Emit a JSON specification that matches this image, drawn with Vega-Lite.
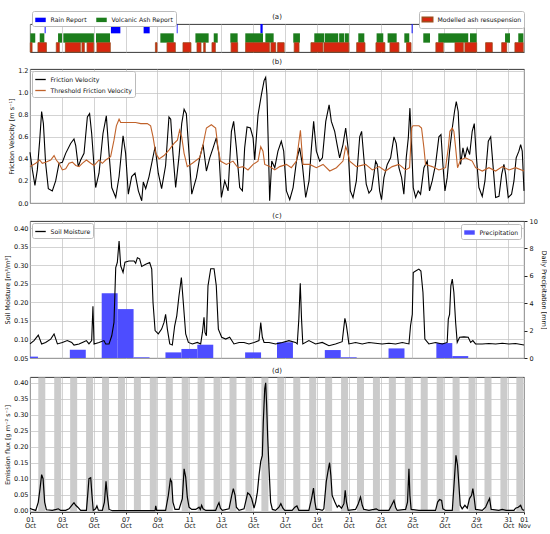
{
  "$schema": "https://vega.github.io/schema/vega-lite/v6.json",
  "padding": {"left": 4, "top": 10, "right": 0, "bottom": 2},
  "resolve": {"scale": {"color": "independent", "fill": "independent"}, "legend": {"color": "independent", "fill": "independent"}},
  "config": {
    "font": "DejaVu Sans",
    "view": {"stroke": "#222222", "strokeWidth": 0.9},
    "axis": {"labelFontSize": 6.5, "titleFontSize": 6.5, "titleFontWeight": "normal", "labelColor": "#111111", "titleColor": "#111111", "gridColor": "#c0c0c0", "gridWidth": 0.7, "domain": false, "ticks": false, "labelPadding": 2, "titlePadding": 3},
    "title": {"fontSize": 7, "fontWeight": "normal", "offset": 3, "color": "#111111"},
    "legend": {"labelFontSize": 6.2, "labelFont": "DejaVu Sans", "labelColor": "#111111", "strokeColor": "#bbbbbb", "fillColor": "white", "padding": 2.5, "cornerRadius": 2, "rowPadding": 1, "columnPadding": 8, "labelLimit": 300, "labelOffset": 4},
    "concat": {"spacing": 4}
  },
  "datasets": {
    "evt": [
      {"k": "Rain Report", "s": 1.92, "e": 1.98}, {"k": "Rain Report", "s": 6.08, "e": 6.67}, {"k": "Rain Report", "s": 8.13, "e": 8.51}, {"k": "Rain Report", "s": 10.21, "e": 10.26}, {"k": "Rain Report", "s": 15.46, "e": 15.6}, {"k": "Rain Report", "s": 24.95, "e": 25.01},
      {"k": "Volcanic Ash Report", "s": 1.02, "e": 1.33}, {"k": "Volcanic Ash Report", "s": 1.61, "e": 1.9}, {"k": "Volcanic Ash Report", "s": 2.76, "e": 3.01}, {"k": "Volcanic Ash Report", "s": 3.09, "e": 5.01}, {"k": "Volcanic Ash Report", "s": 5.14, "e": 6.02}, {"k": "Volcanic Ash Report", "s": 9.18, "e": 10.02}, {"k": "Volcanic Ash Report", "s": 11.38, "e": 12.21}, {"k": "Volcanic Ash Report", "s": 12.53, "e": 12.78}, {"k": "Volcanic Ash Report", "s": 13.57, "e": 14.03}, {"k": "Volcanic Ash Report", "s": 14.51, "e": 15.62}, {"k": "Volcanic Ash Report", "s": 15.77, "e": 16.29}, {"k": "Volcanic Ash Report", "s": 17.52, "e": 17.94}, {"k": "Volcanic Ash Report", "s": 18.84, "e": 19.46}, {"k": "Volcanic Ash Report", "s": 19.5, "e": 20.34}, {"k": "Volcanic Ash Report", "s": 20.4, "e": 20.72}, {"k": "Volcanic Ash Report", "s": 20.76, "e": 21.01}, {"k": "Volcanic Ash Report", "s": 21.6, "e": 21.98}, {"k": "Volcanic Ash Report", "s": 22.75, "e": 23.17}, {"k": "Volcanic Ash Report", "s": 23.44, "e": 24.01}, {"k": "Volcanic Ash Report", "s": 24.49, "e": 24.8}, {"k": "Volcanic Ash Report", "s": 25.68, "e": 26.1}, {"k": "Volcanic Ash Report", "s": 26.62, "e": 28.5}, {"k": "Volcanic Ash Report", "s": 28.61, "e": 29.03}, {"k": "Volcanic Ash Report", "s": 30.81, "e": 31.12}, {"k": "Volcanic Ash Report", "s": 31.64, "e": 31.96},
      {"k": "Modelled ash resuspension", "s": 1.02, "e": 1.13}, {"k": "Modelled ash resuspension", "s": 1.5, "e": 2.03}, {"k": "Modelled ash resuspension", "s": 2.65, "e": 2.84}, {"k": "Modelled ash resuspension", "s": 3.22, "e": 4.16}, {"k": "Modelled ash resuspension", "s": 4.26, "e": 4.41}, {"k": "Modelled ash resuspension", "s": 4.58, "e": 5.0}, {"k": "Modelled ash resuspension", "s": 5.2, "e": 6.04}, {"k": "Modelled ash resuspension", "s": 8.87, "e": 8.97}, {"k": "Modelled ash resuspension", "s": 9.6, "e": 10.12}, {"k": "Modelled ash resuspension", "s": 10.6, "e": 11.1}, {"k": "Modelled ash resuspension", "s": 11.48, "e": 11.73}, {"k": "Modelled ash resuspension", "s": 11.9, "e": 12.0}, {"k": "Modelled ash resuspension", "s": 12.42, "e": 12.63}, {"k": "Modelled ash resuspension", "s": 13.62, "e": 14.03}, {"k": "Modelled ash resuspension", "s": 14.53, "e": 16.02}, {"k": "Modelled ash resuspension", "s": 16.12, "e": 16.42}, {"k": "Modelled ash resuspension", "s": 16.54, "e": 16.95}, {"k": "Modelled ash resuspension", "s": 17.58, "e": 17.88}, {"k": "Modelled ash resuspension", "s": 18.63, "e": 19.38}, {"k": "Modelled ash resuspension", "s": 19.45, "e": 21.01}, {"k": "Modelled ash resuspension", "s": 21.5, "e": 22.02}, {"k": "Modelled ash resuspension", "s": 22.71, "e": 23.27}, {"k": "Modelled ash resuspension", "s": 23.59, "e": 24.15}, {"k": "Modelled ash resuspension", "s": 24.63, "e": 24.91}, {"k": "Modelled ash resuspension", "s": 26.47, "e": 26.93}, {"k": "Modelled ash resuspension", "s": 27.67, "e": 28.19}, {"k": "Modelled ash resuspension", "s": 28.29, "e": 29.03}, {"k": "Modelled ash resuspension", "s": 29.59, "e": 30.01}, {"k": "Modelled ash resuspension", "s": 30.6, "e": 30.91}, {"k": "Modelled ash resuspension", "s": 31.43, "e": 31.95}
    ],
    "fv": [
      {"d":1.00,"v":0.46},{"d":1.15,"v":0.30},{"d":1.31,"v":0.16},{"d":1.46,"v":0.30},{"d":1.61,"v":0.57},{"d":1.73,"v":0.83},{"d":1.84,"v":0.72},{"d":1.98,"v":0.36},{"d":2.15,"v":0.13},{"d":2.40,"v":0.11},{"d":2.61,"v":0.20},{"d":2.82,"v":0.36},{"d":3.03,"v":0.37},{"d":3.24,"v":0.45},{"d":3.55,"v":0.54},{"d":3.76,"v":0.58},{"d":3.87,"v":0.52},{"d":4.03,"v":0.33},{"d":4.18,"v":0.39},{"d":4.39,"v":0.45},{"d":4.60,"v":0.78},{"d":4.74,"v":0.81},{"d":4.87,"v":0.63},{"d":5.02,"v":0.33},{"d":5.12,"v":0.14},{"d":5.33,"v":0.27},{"d":5.58,"v":0.63},{"d":5.79,"v":0.79},{"d":5.96,"v":0.45},{"d":6.13,"v":0.14},{"d":6.38,"v":0.05},{"d":6.59,"v":0.24},{"d":6.84,"v":0.61},{"d":7.00,"v":0.45},{"d":7.17,"v":0.08},{"d":7.38,"v":0.24},{"d":7.59,"v":0.27},{"d":7.80,"v":0.11},{"d":8.01,"v":0.02},{"d":8.11,"v":0.19},{"d":8.26,"v":0.13},{"d":8.47,"v":0.24},{"d":8.68,"v":0.39},{"d":8.85,"v":0.51},{"d":9.05,"v":0.27},{"d":9.26,"v":0.13},{"d":9.51,"v":0.34},{"d":9.72,"v":0.78},{"d":9.83,"v":0.76},{"d":9.97,"v":0.45},{"d":10.14,"v":0.14},{"d":10.35,"v":0.42},{"d":10.52,"v":0.72},{"d":10.67,"v":0.85},{"d":10.81,"v":0.81},{"d":10.98,"v":0.45},{"d":11.15,"v":0.08},{"d":11.44,"v":0.23},{"d":11.65,"v":0.41},{"d":11.86,"v":0.53},{"d":12.07,"v":0.29},{"d":12.28,"v":0.41},{"d":12.49,"v":0.50},{"d":12.69,"v":0.59},{"d":12.86,"v":0.44},{"d":13.01,"v":0.05},{"d":13.22,"v":0.20},{"d":13.43,"v":0.11},{"d":13.64,"v":0.65},{"d":13.78,"v":0.74},{"d":13.95,"v":0.50},{"d":14.16,"v":0.14},{"d":14.33,"v":0.11},{"d":14.47,"v":0.50},{"d":14.62,"v":0.69},{"d":14.83,"v":0.68},{"d":15.00,"v":0.59},{"d":15.10,"v":0.39},{"d":15.31,"v":0.80},{"d":15.52,"v":0.98},{"d":15.69,"v":1.11},{"d":15.79,"v":1.14},{"d":15.87,"v":0.98},{"d":15.96,"v":0.50},{"d":16.04,"v":0.02},{"d":16.17,"v":0.38},{"d":16.36,"v":0.32},{"d":16.56,"v":0.47},{"d":16.77,"v":0.56},{"d":16.92,"v":0.47},{"d":17.09,"v":0.11},{"d":17.30,"v":0.03},{"d":17.51,"v":0.14},{"d":17.72,"v":0.38},{"d":17.92,"v":0.50},{"d":18.09,"v":0.35},{"d":18.30,"v":0.05},{"d":18.51,"v":0.20},{"d":18.66,"v":0.50},{"d":18.80,"v":0.74},{"d":18.97,"v":0.47},{"d":19.18,"v":0.38},{"d":19.35,"v":0.41},{"d":19.56,"v":0.74},{"d":19.77,"v":0.89},{"d":19.91,"v":0.74},{"d":20.12,"v":0.65},{"d":20.27,"v":0.53},{"d":20.43,"v":0.41},{"d":20.64,"v":0.53},{"d":20.81,"v":0.68},{"d":20.96,"v":0.50},{"d":21.10,"v":0.11},{"d":21.27,"v":0.05},{"d":21.48,"v":0.20},{"d":21.69,"v":0.60},{"d":21.81,"v":0.65},{"d":21.95,"v":0.41},{"d":22.10,"v":0.17},{"d":22.27,"v":0.09},{"d":22.43,"v":0.12},{"d":22.58,"v":0.26},{"d":22.69,"v":0.38},{"d":22.79,"v":0.35},{"d":22.94,"v":0.11},{"d":23.06,"v":0.03},{"d":23.21,"v":0.23},{"d":23.42,"v":0.35},{"d":23.63,"v":0.41},{"d":23.84,"v":0.60},{"d":23.98,"v":0.54},{"d":24.15,"v":0.32},{"d":24.32,"v":0.23},{"d":24.46,"v":0.08},{"d":24.61,"v":0.41},{"d":24.74,"v":0.59},{"d":24.84,"v":0.86},{"d":24.95,"v":0.50},{"d":25.05,"v":0.14},{"d":25.20,"v":0.05},{"d":25.36,"v":0.11},{"d":25.51,"v":0.08},{"d":25.72,"v":0.32},{"d":25.93,"v":0.38},{"d":26.07,"v":0.11},{"d":26.24,"v":0.20},{"d":26.45,"v":0.35},{"d":26.66,"v":0.60},{"d":26.79,"v":0.62},{"d":26.91,"v":0.35},{"d":27.04,"v":0.11},{"d":27.18,"v":0.23},{"d":27.33,"v":0.47},{"d":27.50,"v":0.68},{"d":27.64,"v":0.83},{"d":27.75,"v":0.92},{"d":27.87,"v":0.83},{"d":28.02,"v":0.35},{"d":28.17,"v":0.50},{"d":28.29,"v":0.41},{"d":28.44,"v":0.50},{"d":28.59,"v":0.44},{"d":28.75,"v":0.65},{"d":28.88,"v":0.72},{"d":29.00,"v":0.44},{"d":29.17,"v":0.14},{"d":29.38,"v":0.06},{"d":29.55,"v":0.20},{"d":29.76,"v":0.56},{"d":29.91,"v":0.60},{"d":30.05,"v":0.35},{"d":30.22,"v":0.05},{"d":30.43,"v":0.06},{"d":30.60,"v":0.26},{"d":30.74,"v":0.35},{"d":30.85,"v":0.26},{"d":31.01,"v":0.05},{"d":31.22,"v":0.08},{"d":31.37,"v":0.20},{"d":31.51,"v":0.41},{"d":31.68,"v":0.47},{"d":31.79,"v":0.53},{"d":31.89,"v":0.47},{"d":32.00,"v":0.11}
    ],
    "tfv": [
      {"d":1.00,"v":0.33},{"d":1.36,"v":0.36},{"d":1.61,"v":0.39},{"d":1.77,"v":0.36},{"d":1.98,"v":0.37},{"d":2.30,"v":0.39},{"d":2.51,"v":0.43},{"d":2.65,"v":0.39},{"d":2.82,"v":0.36},{"d":3.03,"v":0.30},{"d":3.24,"v":0.31},{"d":3.45,"v":0.36},{"d":3.66,"v":0.37},{"d":3.87,"v":0.34},{"d":4.08,"v":0.33},{"d":4.28,"v":0.36},{"d":4.54,"v":0.39},{"d":4.81,"v":0.36},{"d":5.02,"v":0.34},{"d":5.33,"v":0.39},{"d":5.54,"v":0.36},{"d":5.75,"v":0.39},{"d":6.06,"v":0.42},{"d":6.27,"v":0.57},{"d":6.42,"v":0.70},{"d":6.59,"v":0.76},{"d":6.69,"v":0.73},{"d":6.90,"v":0.73},{"d":7.21,"v":0.73},{"d":7.63,"v":0.73},{"d":7.95,"v":0.72},{"d":8.36,"v":0.72},{"d":8.57,"v":0.70},{"d":8.72,"v":0.60},{"d":8.89,"v":0.45},{"d":9.10,"v":0.40},{"d":9.41,"v":0.43},{"d":9.72,"v":0.48},{"d":10.04,"v":0.54},{"d":10.25,"v":0.57},{"d":10.39,"v":0.66},{"d":10.52,"v":0.60},{"d":10.67,"v":0.45},{"d":10.87,"v":0.33},{"d":11.19,"v":0.36},{"d":11.65,"v":0.41},{"d":11.86,"v":0.53},{"d":12.07,"v":0.68},{"d":12.38,"v":0.71},{"d":12.65,"v":0.68},{"d":12.80,"v":0.50},{"d":12.95,"v":0.38},{"d":13.32,"v":0.35},{"d":13.74,"v":0.38},{"d":14.05,"v":0.32},{"d":14.37,"v":0.33},{"d":14.68,"v":0.30},{"d":15.00,"v":0.35},{"d":15.31,"v":0.38},{"d":15.48,"v":0.51},{"d":15.62,"v":0.47},{"d":15.73,"v":0.35},{"d":16.04,"v":0.33},{"d":16.36,"v":0.30},{"d":16.67,"v":0.33},{"d":17.09,"v":0.35},{"d":17.40,"v":0.32},{"d":17.72,"v":0.38},{"d":17.88,"v":0.56},{"d":17.97,"v":0.66},{"d":18.05,"v":0.50},{"d":18.13,"v":0.35},{"d":18.55,"v":0.35},{"d":18.97,"v":0.32},{"d":19.39,"v":0.35},{"d":19.81,"v":0.29},{"d":20.23,"v":0.32},{"d":20.64,"v":0.38},{"d":20.81,"v":0.51},{"d":20.92,"v":0.47},{"d":21.06,"v":0.38},{"d":21.48,"v":0.33},{"d":22.06,"v":0.35},{"d":22.48,"v":0.30},{"d":22.90,"v":0.33},{"d":23.31,"v":0.29},{"d":23.73,"v":0.33},{"d":24.15,"v":0.35},{"d":24.57,"v":0.30},{"d":24.82,"v":0.32},{"d":24.95,"v":0.68},{"d":25.03,"v":0.70},{"d":25.41,"v":0.70},{"d":25.57,"v":0.68},{"d":25.72,"v":0.50},{"d":25.82,"v":0.35},{"d":26.24,"v":0.33},{"d":26.66,"v":0.30},{"d":27.08,"v":0.32},{"d":27.25,"v":0.50},{"d":27.35,"v":0.65},{"d":27.50,"v":0.68},{"d":27.60,"v":0.65},{"d":27.71,"v":0.50},{"d":27.83,"v":0.32},{"d":28.02,"v":0.39},{"d":28.33,"v":0.41},{"d":28.75,"v":0.38},{"d":28.96,"v":0.32},{"d":29.38,"v":0.29},{"d":29.80,"v":0.32},{"d":30.22,"v":0.29},{"d":30.64,"v":0.33},{"d":31.06,"v":0.30},{"d":31.47,"v":0.32},{"d":32.00,"v":0.29}
    ],
    "sm": [
      {"d":1.00,"v":0.088},{"d":1.25,"v":0.097},{"d":1.52,"v":0.112},{"d":1.73,"v":0.088},{"d":1.98,"v":0.092},{"d":2.30,"v":0.101},{"d":2.51,"v":0.115},{"d":2.72,"v":0.088},{"d":3.03,"v":0.092},{"d":3.34,"v":0.097},{"d":3.62,"v":0.092},{"d":3.76,"v":0.085},{"d":4.08,"v":0.088},{"d":4.39,"v":0.094},{"d":4.54,"v":0.097},{"d":4.70,"v":0.088},{"d":4.87,"v":0.097},{"d":4.95,"v":0.190},{"d":5.02,"v":0.088},{"d":5.33,"v":0.092},{"d":5.64,"v":0.097},{"d":5.75,"v":0.088},{"d":5.96,"v":0.088},{"d":6.13,"v":0.110},{"d":6.27,"v":0.146},{"d":6.38,"v":0.294},{"d":6.48,"v":0.308},{"d":6.59,"v":0.366},{"d":6.69,"v":0.299},{"d":6.84,"v":0.281},{"d":6.96,"v":0.309},{"d":7.21,"v":0.312},{"d":7.53,"v":0.312},{"d":7.63,"v":0.306},{"d":7.74,"v":0.321},{"d":7.88,"v":0.318},{"d":8.01,"v":0.297},{"d":8.26,"v":0.303},{"d":8.51,"v":0.308},{"d":8.64,"v":0.290},{"d":8.72,"v":0.200},{"d":8.85,"v":0.124},{"d":9.05,"v":0.115},{"d":9.26,"v":0.128},{"d":9.41,"v":0.146},{"d":9.51,"v":0.168},{"d":9.62,"v":0.128},{"d":9.77,"v":0.088},{"d":9.93,"v":0.085},{"d":10.08,"v":0.137},{"d":10.21,"v":0.164},{"d":10.35,"v":0.218},{"d":10.50,"v":0.267},{"d":10.62,"v":0.200},{"d":10.77,"v":0.115},{"d":10.94,"v":0.092},{"d":11.19,"v":0.088},{"d":11.50,"v":0.092},{"d":11.71,"v":0.088},{"d":11.82,"v":0.119},{"d":11.92,"v":0.160},{"d":11.98,"v":0.119},{"d":12.07,"v":0.110},{"d":12.17,"v":0.245},{"d":12.34,"v":0.291},{"d":12.55,"v":0.291},{"d":12.69,"v":0.245},{"d":12.82,"v":0.128},{"d":13.03,"v":0.106},{"d":13.28,"v":0.101},{"d":13.53,"v":0.106},{"d":13.80,"v":0.088},{"d":14.12,"v":0.092},{"d":14.43,"v":0.092},{"d":14.74,"v":0.088},{"d":15.06,"v":0.092},{"d":15.37,"v":0.097},{"d":15.48,"v":0.146},{"d":15.58,"v":0.106},{"d":15.69,"v":0.092},{"d":16.00,"v":0.092},{"d":16.41,"v":0.088},{"d":16.83,"v":0.092},{"d":17.25,"v":0.097},{"d":17.66,"v":0.092},{"d":17.77,"v":0.088},{"d":17.87,"v":0.155},{"d":17.96,"v":0.252},{"d":18.04,"v":0.155},{"d":18.12,"v":0.088},{"d":18.50,"v":0.097},{"d":18.92,"v":0.088},{"d":19.34,"v":0.092},{"d":19.76,"v":0.083},{"d":20.17,"v":0.088},{"d":20.59,"v":0.094},{"d":20.68,"v":0.128},{"d":20.76,"v":0.157},{"d":20.84,"v":0.142},{"d":20.93,"v":0.115},{"d":21.01,"v":0.088},{"d":21.43,"v":0.092},{"d":21.85,"v":0.088},{"d":22.27,"v":0.092},{"d":22.68,"v":0.090},{"d":23.10,"v":0.088},{"d":23.52,"v":0.090},{"d":23.94,"v":0.088},{"d":24.36,"v":0.092},{"d":24.78,"v":0.088},{"d":24.88,"v":0.137},{"d":24.99,"v":0.168},{"d":25.05,"v":0.281},{"d":25.20,"v":0.285},{"d":25.40,"v":0.290},{"d":25.53,"v":0.285},{"d":25.66,"v":0.227},{"d":25.78,"v":0.101},{"d":26.03,"v":0.088},{"d":26.45,"v":0.092},{"d":26.87,"v":0.088},{"d":27.18,"v":0.092},{"d":27.25,"v":0.155},{"d":27.33,"v":0.168},{"d":27.41,"v":0.245},{"d":27.50,"v":0.263},{"d":27.60,"v":0.227},{"d":27.71,"v":0.146},{"d":27.81,"v":0.092},{"d":27.96,"v":0.106},{"d":28.23,"v":0.107},{"d":28.50,"v":0.106},{"d":28.65,"v":0.092},{"d":28.79,"v":0.097},{"d":28.96,"v":0.088},{"d":29.38,"v":0.088},{"d":29.80,"v":0.089},{"d":30.22,"v":0.088},{"d":30.64,"v":0.090},{"d":31.05,"v":0.088},{"d":31.47,"v":0.089},{"d":32.00,"v":0.085}
    ],
    "pr": [
      {"s":0.5,"e":1.5,"p":0.1},{"s":3.5,"e":4.5,"p":0.6},{"s":5.5,"e":6.5,"p":4.73},{"s":6.5,"e":7.5,"p":3.57},{"s":7.5,"e":8.5,"p":0.05},{"s":9.5,"e":10.5,"p":0.41},{"s":10.5,"e":11.5,"p":0.66},{"s":11.5,"e":12.5,"p":0.97},{"s":14.5,"e":15.5,"p":0.41},{"s":16.5,"e":17.5,"p":1.15},{"s":19.5,"e":20.5,"p":0.58},{"s":20.5,"e":21.5,"p":0.05},{"s":23.5,"e":24.5,"p":0.7},{"s":26.5,"e":27.5,"p":1.09},{"s":27.5,"e":28.5,"p":0.14}
    ],
    "nt": [
      {"s":1.52,"e":1.96},{"s":2.52,"e":2.96},{"s":3.52,"e":3.96},{"s":4.52,"e":4.96},{"s":5.52,"e":5.96},{"s":6.52,"e":6.96},{"s":7.52,"e":7.96},{"s":8.52,"e":8.96},{"s":9.52,"e":9.96},{"s":10.52,"e":10.96},{"s":11.52,"e":11.96},{"s":12.52,"e":12.96},{"s":13.52,"e":13.96},{"s":14.52,"e":14.96},{"s":15.52,"e":15.96},{"s":16.52,"e":16.96},{"s":17.52,"e":17.96},{"s":18.52,"e":18.96},{"s":19.52,"e":19.96},{"s":20.52,"e":20.96},{"s":21.52,"e":21.96},{"s":22.52,"e":22.96},{"s":23.52,"e":23.96},{"s":24.52,"e":24.96},{"s":25.52,"e":25.96},{"s":26.52,"e":26.96},{"s":27.52,"e":27.96},{"s":28.52,"e":28.96},{"s":29.52,"e":29.96},{"s":30.52,"e":30.96},{"s":31.52,"e":31.96}
    ],
    "em": [
      {"d":1.00,"v":0.008},{"d":1.15,"v":0.004},{"d":1.36,"v":0.001},{"d":1.52,"v":0.027},{"d":1.63,"v":0.069},{"d":1.73,"v":0.113},{"d":1.82,"v":0.100},{"d":1.92,"v":0.027},{"d":2.03,"v":0.003},{"d":2.40,"v":0.001},{"d":2.65,"v":0.004},{"d":2.78,"v":0.006},{"d":2.92,"v":0.001},{"d":3.24,"v":0.001},{"d":3.45,"v":0.006},{"d":3.66,"v":0.019},{"d":3.76,"v":0.025},{"d":3.87,"v":0.017},{"d":4.00,"v":0.011},{"d":4.18,"v":0.001},{"d":4.54,"v":0.001},{"d":4.62,"v":0.048},{"d":4.70,"v":0.100},{"d":4.81,"v":0.103},{"d":4.89,"v":0.048},{"d":4.97,"v":0.001},{"d":5.12,"v":0.006},{"d":5.20,"v":0.015},{"d":5.29,"v":0.002},{"d":5.54,"v":0.001},{"d":5.67,"v":0.027},{"d":5.77,"v":0.092},{"d":5.85,"v":0.048},{"d":5.96,"v":0.004},{"d":6.17,"v":0.0},{"d":8.85,"v":0.0},{"d":8.89,"v":0.015},{"d":8.95,"v":0.001},{"d":9.51,"v":0.001},{"d":9.68,"v":0.048},{"d":9.81,"v":0.098},{"d":9.89,"v":0.090},{"d":9.97,"v":0.027},{"d":10.10,"v":0.004},{"d":10.35,"v":0.004},{"d":10.56,"v":0.038},{"d":10.67,"v":0.131},{"d":10.77,"v":0.105},{"d":10.87,"v":0.043},{"d":10.98,"v":0.011},{"d":11.15,"v":0.004},{"d":11.40,"v":0.004},{"d":11.61,"v":0.011},{"d":11.69,"v":0.004},{"d":11.77,"v":0.017},{"d":11.86,"v":0.006},{"d":12.03,"v":0.001},{"d":12.65,"v":0.001},{"d":12.78,"v":0.017},{"d":12.86,"v":0.025},{"d":12.95,"v":0.008},{"d":13.07,"v":0.001},{"d":13.49,"v":0.006},{"d":13.66,"v":0.048},{"d":13.76,"v":0.069},{"d":13.87,"v":0.048},{"d":13.95,"v":0.011},{"d":14.12,"v":0.001},{"d":14.43,"v":0.006},{"d":14.58,"v":0.038},{"d":14.66,"v":0.056},{"d":14.79,"v":0.050},{"d":14.91,"v":0.038},{"d":15.06,"v":0.008},{"d":15.16,"v":0.027},{"d":15.27,"v":0.058},{"d":15.37,"v":0.110},{"d":15.48,"v":0.154},{"d":15.58,"v":0.173},{"d":15.64,"v":0.277},{"d":15.73,"v":0.381},{"d":15.79,"v":0.400},{"d":15.85,"v":0.329},{"d":15.92,"v":0.225},{"d":16.00,"v":0.131},{"d":16.10,"v":0.027},{"d":16.21,"v":0.004},{"d":16.41,"v":0.001},{"d":16.62,"v":0.011},{"d":16.74,"v":0.022},{"d":16.87,"v":0.008},{"d":16.99,"v":0.001},{"d":17.45,"v":0.001},{"d":17.62,"v":0.011},{"d":17.75,"v":0.015},{"d":17.87,"v":0.001},{"d":18.50,"v":0.001},{"d":18.67,"v":0.038},{"d":18.79,"v":0.071},{"d":18.88,"v":0.027},{"d":18.96,"v":0.004},{"d":19.13,"v":0.004},{"d":19.34,"v":0.001},{"d":19.44,"v":0.006},{"d":19.59,"v":0.090},{"d":19.71,"v":0.126},{"d":19.80,"v":0.150},{"d":19.88,"v":0.110},{"d":19.96,"v":0.048},{"d":20.13,"v":0.027},{"d":20.28,"v":0.011},{"d":20.38,"v":0.017},{"d":20.55,"v":0.008},{"d":20.70,"v":0.022},{"d":20.78,"v":0.064},{"d":20.86,"v":0.027},{"d":20.97,"v":0.001},{"d":21.43,"v":0.004},{"d":21.60,"v":0.022},{"d":21.74,"v":0.043},{"d":21.85,"v":0.017},{"d":21.95,"v":0.004},{"d":22.27,"v":0.001},{"d":22.58,"v":0.004},{"d":22.73,"v":0.006},{"d":22.89,"v":0.001},{"d":23.52,"v":0.001},{"d":23.69,"v":0.017},{"d":23.84,"v":0.032},{"d":23.94,"v":0.011},{"d":24.04,"v":0.001},{"d":24.57,"v":0.004},{"d":24.69,"v":0.027},{"d":24.78,"v":0.131},{"d":24.84,"v":0.048},{"d":24.92,"v":0.004},{"d":25.40,"v":0.001},{"d":26.45,"v":0.001},{"d":26.58,"v":0.027},{"d":26.70,"v":0.035},{"d":26.83,"v":0.032},{"d":26.91,"v":0.006},{"d":27.08,"v":0.001},{"d":27.50,"v":0.001},{"d":27.62,"v":0.090},{"d":27.73,"v":0.173},{"d":27.83,"v":0.142},{"d":27.91,"v":0.084},{"d":28.00,"v":0.017},{"d":28.12,"v":0.006},{"d":28.29,"v":0.017},{"d":28.44,"v":0.008},{"d":28.58,"v":0.038},{"d":28.71,"v":0.048},{"d":28.79,"v":0.069},{"d":28.88,"v":0.038},{"d":28.96,"v":0.004},{"d":29.38,"v":0.001},{"d":29.59,"v":0.011},{"d":29.73,"v":0.027},{"d":29.84,"v":0.038},{"d":29.94,"v":0.004},{"d":30.42,"v":0.001},{"d":30.63,"v":0.004},{"d":30.88,"v":0.001},{"d":31.37,"v":0.001},{"d":31.47,"v":0.008},{"d":31.64,"v":0.011},{"d":31.79,"v":0.017},{"d":31.89,"v":0.004},{"d":32.00,"v":0.001}
    ]
  },
  "vconcat": [
    {
      "title": {"text": "(a)", "offset": -9},
      "width": 494,
      "height": 28,
      "data": {"name": "evt"},
      "encoding": {
        "x": {"field": "s", "type": "quantitative", "scale": {"domain": [1, 32], "nice": false, "zero": false}, "axis": {"values": [1,3,5,7,9,11,13,15,17,19,21,23,25,27,29,31,32], "labels": false, "title": null, "grid": true}},
        "x2": {"field": "e"},
        "y": {"field": "k", "type": "nominal", "scale": {"domain": ["Rain Report", "Volcanic Ash Report", "Modelled ash resuspension"], "paddingInner": 0, "paddingOuter": 0}, "axis": null}
      },
      "layer": [
        {
          "transform": [{"filter": "datum.k != 'Modelled ash resuspension'"}],
          "mark": {"type": "rect"},
          "encoding": {
            "color": {"field": "k", "type": "nominal", "scale": {"domain": ["Rain Report", "Volcanic Ash Report"], "range": ["#0000ff", "#1c7d1c"]}, "legend": {"title": null, "orient": "none", "legendX": 2, "legendY": -13, "direction": "horizontal", "symbolType": "M-1,-0.42H1V0.42H-1Z", "symbolSize": 110}}
          }
        },
        {
          "transform": [{"filter": "datum.k == 'Modelled ash resuspension'"}],
          "mark": {"type": "rect", "stroke": "#9c4a1c", "strokeWidth": 0.8},
          "encoding": {
            "fill": {"field": "k", "type": "nominal", "scale": {"domain": ["Modelled ash resuspension"], "range": ["#d8260f"]}, "legend": {"title": null, "orient": "none", "legendX": 389, "legendY": -13, "symbolType": "M-1,-0.42H1V0.42H-1Z", "symbolSize": 110, "symbolStrokeColor": "#a04a1c", "symbolStrokeWidth": 1.5}}
          }
        }
      ]
    },
    {
      "title": "(b)",
      "width": 494,
      "height": 134,
      "encoding": {
        "x": {"field": "d", "type": "quantitative", "scale": {"domain": [1, 32], "nice": false, "zero": false}, "axis": {"values": [1,3,5,7,9,11,13,15,17,19,21,23,25,27,29,31,32], "labels": false, "title": null, "grid": true}},
        "y": {"field": "v", "type": "quantitative", "scale": {"domain": [0, 1.215], "nice": false, "zero": false}, "axis": {"values": [0, 0.2, 0.4, 0.6, 0.8, 1.0, 1.2], "format": ".1f", "title": "Friction Velocity [m s⁻¹]", "grid": true}}
      },
      "layer": [
        {
          "data": {"name": "fv"},
          "mark": {"type": "line", "strokeWidth": 1.1},
          "encoding": {"color": {"datum": "Friction Velocity", "type": "nominal", "scale": {"domain": ["Friction Velocity", "Threshold Friction Velocity"], "range": ["#000000", "#c0622a"]}, "legend": {"title": null, "orient": "top-left", "offset": 2, "symbolType": "stroke", "symbolSize": 110, "symbolStrokeWidth": 1.3}}}
        },
        {
          "data": {"name": "tfv"},
          "mark": {"type": "line", "strokeWidth": 1.1},
          "encoding": {"color": {"datum": "Threshold Friction Velocity", "type": "nominal"}}
        }
      ]
    },
    {
      "title": {"text": "(c)", "offset": -1},
      "width": 494,
      "height": 137,
      "layer": [
        {
          "data": {"name": "pr"},
          "mark": {"type": "rect", "clip": true},
          "encoding": {
            "x": {"field": "s", "type": "quantitative", "scale": {"domain": [1, 32], "nice": false, "zero": false}, "axis": {"values": [1,3,5,7,9,11,13,15,17,19,21,23,25,27,29,31,32], "labels": false, "title": null, "grid": true}},
            "x2": {"field": "e"},
            "y": {"field": "p", "type": "quantitative", "scale": {"domain": [0, 10], "nice": false}, "axis": {"orient": "right", "values": [0, 2, 4, 6, 8, 10], "title": "Daily Precipitation [mm]", "grid": false, "ticks": true, "tickSize": 3, "tickColor": "#222222"}},
            "y2": {"datum": 0},
            "fill": {"datum": "Precipitation", "type": "nominal", "scale": {"domain": ["Precipitation"], "range": ["#4d4dff"]}, "legend": {"title": null, "orient": "top-right", "offset": 3, "symbolType": "M-1,-0.42H1V0.42H-1Z", "symbolSize": 110}}
          }
        },
        {
          "data": {"name": "sm"},
          "mark": {"type": "line", "strokeWidth": 1.1},
          "encoding": {
            "x": {"field": "d", "type": "quantitative", "scale": {"domain": [1, 32], "nice": false, "zero": false}, "axis": {"values": [1,3,5,7,9,11,13,15,17,19,21,23,25,27,29,31,32], "labels": false, "title": null, "grid": true}},
            "y": {"field": "v", "type": "quantitative", "scale": {"domain": [0.05, 0.42], "nice": false, "zero": false}, "axis": {"orient": "left", "values": [0.05, 0.1, 0.15, 0.2, 0.25, 0.3, 0.35, 0.4], "format": ".2f", "title": "Soil Moisture [m³/m³]", "grid": true}},
            "color": {"datum": "Soil Moisture", "type": "nominal", "scale": {"domain": ["Soil Moisture"], "range": ["#000000"]}, "legend": {"title": null, "orient": "top-left", "offset": 2, "symbolType": "stroke", "symbolSize": 110, "symbolStrokeWidth": 1.3}}
          }
        }
      ],
      "resolve": {"scale": {"y": "independent"}}
    },
    {
      "title": "(d)",
      "width": 494,
      "height": 135,
      "layer": [
        {
          "data": {"name": "nt"},
          "mark": {"type": "rect", "color": "#cbcbcb"},
          "encoding": {
            "x": {"field": "s", "type": "quantitative", "scale": {"domain": [1, 32], "nice": false, "zero": false}, "axis": {"values": [1,3,5,7,9,11,13,15,17,19,21,23,25,27,29,31,32], "title": null, "grid": true, "labelExpr": "datum.value == 32 ? ['01', 'Nov'] : [(datum.value < 10 ? '0' : '') + datum.value, 'Oct']", "labelFlush": false, "labelOverlap": false, "labelLineHeight": 6.5, "labelPadding": 2, "ticks": true, "tickSize": 2, "tickColor": "#222222"}},
            "x2": {"field": "e"},
            "y": {"datum": 0.4165, "type": "quantitative", "scale": {"domain": [-0.004, 0.418], "nice": false, "zero": false}, "axis": {"values": [0, 0.05, 0.1, 0.15, 0.2, 0.25, 0.3, 0.35, 0.4], "format": ".2f", "title": "Emission flux [g m⁻² s⁻¹]", "grid": true, "labelOverlap": false}},
            "y2": {"datum": -0.0025}
          }
        },
        {
          "data": {"name": "em"},
          "mark": {"type": "line", "strokeWidth": 1.2, "color": "#000000"},
          "encoding": {
            "x": {"field": "d", "type": "quantitative", "scale": {"domain": [1, 32], "nice": false, "zero": false}, "axis": {"values": [1,3,5,7,9,11,13,15,17,19,21,23,25,27,29,31,32], "title": null, "grid": true, "labelExpr": "datum.value == 32 ? ['01', 'Nov'] : [(datum.value < 10 ? '0' : '') + datum.value, 'Oct']", "labelFlush": false, "labelOverlap": false, "labelLineHeight": 6.5, "labelPadding": 2, "ticks": true, "tickSize": 2, "tickColor": "#222222"}},
            "y": {"field": "v", "type": "quantitative", "scale": {"domain": [-0.004, 0.418], "nice": false, "zero": false}, "axis": {"values": [0, 0.05, 0.1, 0.15, 0.2, 0.25, 0.3, 0.35, 0.4], "format": ".2f", "title": "Emission flux [g m⁻² s⁻¹]", "grid": true, "labelOverlap": false}}
          }
        }
      ]
    }
  ]
}
